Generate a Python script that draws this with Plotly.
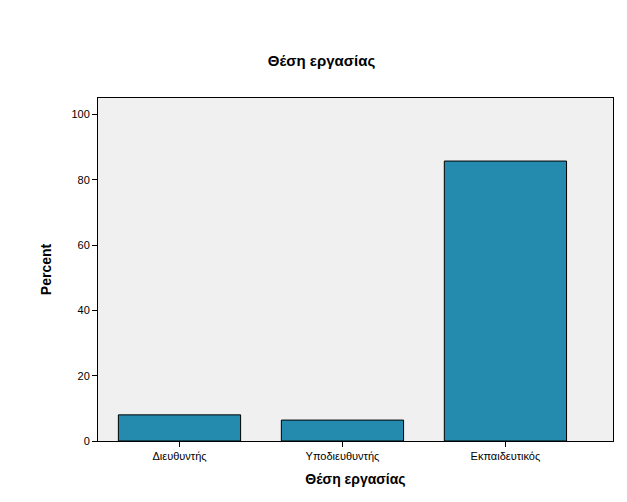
import plotly.graph_objects as go

categories = ["Διευθυντής", "Υποδιευθυντής", "Εκπαιδευτικός"]
percent = [8.0, 6.4, 85.7]

fig = go.Figure(go.Bar(x=categories, y=percent, marker=dict(color="#248bae", line=dict(color="black", width=1)), width=0.75))
fig.update_layout(
    width=627, height=502,
    paper_bgcolor="white", plot_bgcolor="#f0f0f0",
    font=dict(family="Liberation Sans, Arial, sans-serif", color="black", size=11),
    title=dict(text="<b>Θέση εργασίας</b>", x=0.5, xanchor="center", y=0.905, font=dict(size=15)),
    margin=dict(l=90, r=22, t=90, b=69),
    showlegend=False,
)
fig.update_xaxes(type="category", range=[-0.5, 2.66], showline=True, linecolor="black", mirror=True,
                 ticks="outside", ticklen=5, tickcolor="black",
                 title=dict(text="<b>Θέση εργασίας</b>", font=dict(size=14), standoff=12))
fig.update_yaxes(range=[0, 105], dtick=20, showgrid=False, zeroline=False, showline=True, linecolor="black", mirror=True,
                 ticks="outside", ticklen=5, tickcolor="black",
                 title=dict(text="<b>Percent</b>", font=dict(size=14), standoff=16))
fig.write_html("out.html")
